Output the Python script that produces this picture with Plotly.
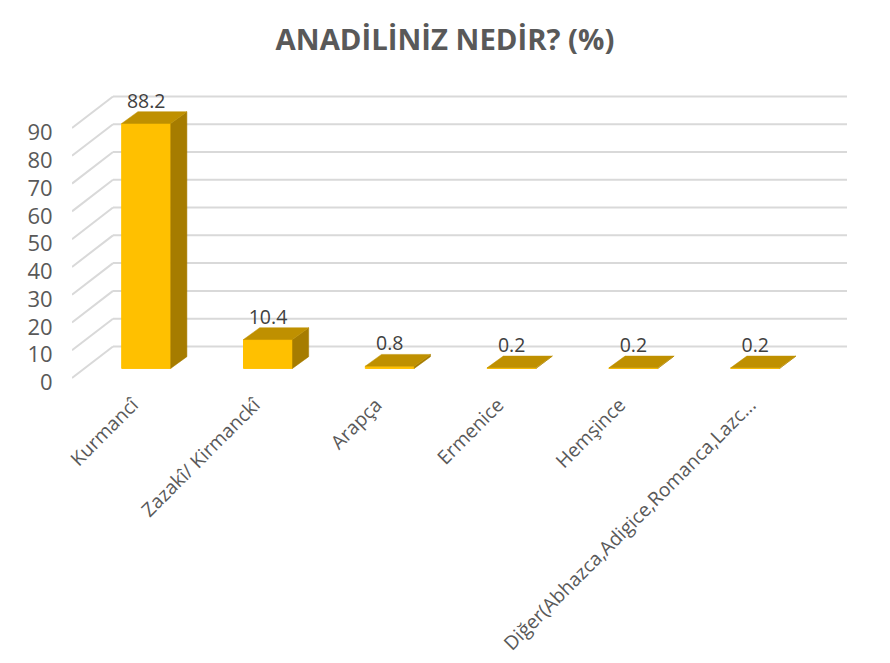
import plotly.graph_objects as go

categories = ["Kurmancî", "Zazakî/ Kirmanckî", "Arapça", "Ermenice", "Hemşince",
              "Diğer(Abhazca,Adigice,Romanca,Lazc..."]
values = [88.2, 10.4, 0.8, 0.2, 0.2, 0.2]
y_ticks = [0, 10, 20, 30, 40, 50, 60, 70, 80, 90]
title = "ANADİLİNİZ NEDİR? (%)"

# oblique projection, in axis units
W, H = 890, 663
L, R, T, B = 72, 847, 88, 378.3   # B is the pixel row of value 0
below = 5.0                       # px of plot area kept under value 0
px_x = 121.8          # px per category
px_y = 2.78           # px per value unit
x_min = (L - 146.2) / px_x
x_max = (R - 146.2) / px_x
y_max = (B - T) / px_y
y_min = -below / px_y
wall_dx = (113 - L) / px_x
wall_dy = 31.6 / px_y
bar_w = 49 / px_x
bar_dx = 16.2 / px_x
bar_dy = 11.8 / px_y
base = 9.6 / px_y
label_shift = [13.5, 13.5, 13.5, 13.5, 13.5, 5]   # px left of the bar centre
y_label_drop = 4.5 / px_y

FRONT, TOP, SIDE, GRID, TXT = "#FFC000", "#BF9000", "#A67C00", "#D9D9D9", "#595959"
FONT = "Open Sans"

xs = list(range(len(categories)))
fig = go.Figure()

fig.add_trace(go.Bar(x=xs, y=values, base=base, width=bar_w,
                     marker=dict(color=FRONT, line=dict(color=FRONT, width=1)),
                     showlegend=False, hoverinfo="skip"))

for x, v in zip(xs, values):
    xl, xr = x - bar_w / 2, x + bar_w / 2
    y0, y1 = base, base + v
    fig.add_trace(go.Scatter(
        x=[xr, xr + bar_dx, xr + bar_dx, xr, xr],
        y=[y0, y0 + bar_dy, y1 + bar_dy, y1, y0],
        mode="lines", fill="toself", fillcolor=SIDE, line=dict(color=SIDE, width=0.5),
        showlegend=False, hoverinfo="skip"))
    fig.add_trace(go.Scatter(
        x=[xl, xr, xr + bar_dx, xl + bar_dx, xl],
        y=[y1, y1, y1 + bar_dy, y1 + bar_dy, y1],
        mode="lines", fill="toself", fillcolor=TOP, line=dict(color=TOP, width=0.5),
        showlegend=False, hoverinfo="skip"))

fig.add_trace(go.Scatter(
    x=xs, y=[base + v + bar_dy + 9 / px_y for v in values],
    mode="text", text=[str(v) for v in values], textposition="middle center",
    textfont=dict(family=FONT, size=19.5, color="#404040"),
    cliponaxis=False, showlegend=False, hoverinfo="skip"))

shapes = []
for t in y_ticks:
    shapes.append(dict(type="line", layer="below", xref="x", yref="y",
                       x0=x_min, y0=t, x1=x_min + wall_dx, y1=t + wall_dy,
                       line=dict(color=GRID, width=2)))
    shapes.append(dict(type="line", layer="below", xref="x", yref="y",
                       x0=x_min + wall_dx, y0=t + wall_dy, x1=x_max, y1=t + wall_dy,
                       line=dict(color=GRID, width=2)))

fig.update_layout(
    width=W, height=H, autosize=False,
    margin=dict(l=L, r=W - R, t=T, b=H - B - below, pad=0),
    paper_bgcolor="white", plot_bgcolor="white",
    title=dict(text=f"<b>{title}</b>", x=0.5, xanchor="center", y=1 - 40 / H, yanchor="middle",
               font=dict(family=FONT, size=29.3, color=TXT)),
    shapes=shapes,
    showlegend=False,
    xaxis=dict(range=[x_min, x_max], tickmode="array",
               tickvals=[x - s / px_x for x, s in zip(xs, label_shift)], ticktext=categories,
               tickangle=-45, showgrid=False, zeroline=False, showline=False,
               ticks="outside", ticklen=2, tickcolor="rgba(0,0,0,0)",
               tickfont=dict(family=FONT, size=19.3, color=TXT), automargin=False),
    yaxis=dict(range=[y_min, y_max], tickmode="array",
               tickvals=[t - y_label_drop for t in y_ticks], ticktext=[str(t) for t in y_ticks],
               showgrid=False, zeroline=False, showline=False,
               ticks="outside", ticklen=14, tickcolor="rgba(0,0,0,0)",
               tickfont=dict(family=FONT, size=22, color=TXT), automargin=False),
)

fig.write_html("out.html", config={"displayModeBar": False},
               post_script="document.body.style.margin='0';")
